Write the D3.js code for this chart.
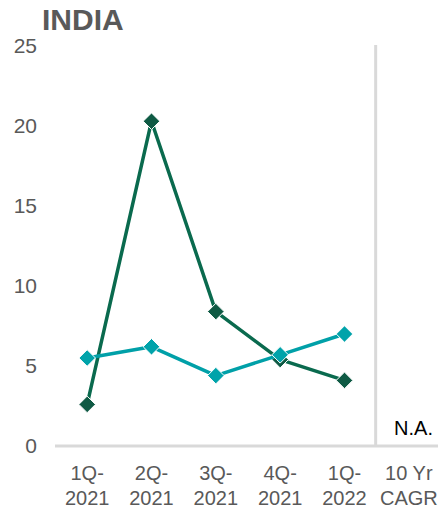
<!DOCTYPE html>
<html>
<head>
<meta charset="utf-8">
<script src="https://cdn.jsdelivr.net/npm/d3@7"></script>
<style>
  html, body { margin: 0; padding: 0; background: #fff; }
  svg { display: block; font-family: "Liberation Sans", Arial, sans-serif; }
</style>
</head>
<body>
<svg id="chart" width="438" height="512"></svg>
<script>
// Quarterly growth, India
const categories = ["1Q-2021", "2Q-2021", "3Q-2021", "4Q-2021", "1Q-2022", "10 Yr CAGR"];
const quarters = categories.slice(0, 5);
const seriesDark = [2.6, 20.3, 8.4, 5.4, 4.1];
const seriesTeal = [5.5, 6.2, 4.4, 5.7, 7.0];
const yTicks = [0, 5, 10, 15, 20, 25];
const cagrLabel = "N.A.";

const svg = d3.select("#chart");
const FONT = "Liberation Sans, Arial, sans-serif";

const x = d3.scaleBand().domain(categories).range([55, 441]).padding(0);
const y = d3.scaleLinear().domain([0, 25]).range([446, 46]);

// title
svg.append("text")
  .attr("x", 42).attr("y", 30)
  .style("font-size", "30px").style("font-weight", "bold")
  .style("font-family", FONT)
  .attr("fill", "#595959")
  .text("INDIA");

// y axis labels
const yAxis = d3.axisLeft(y).tickValues(yTicks).tickSize(0).tickPadding(0);
const yg = svg.append("g").attr("transform", "translate(37,0)").call(yAxis);
yg.attr("font-size", null).attr("font-family", null);
yg.select(".domain").remove();
yg.selectAll("text")
  .style("font-size", "21px").style("font-family", FONT)
  .attr("fill", "#595959");

// separator before CAGR column
const sepX = x("10 Yr CAGR") - 1;
svg.append("line")
  .attr("x1", sepX).attr("x2", sepX)
  .attr("y1", 45).attr("y2", 446)
  .attr("stroke", "#d9d9d9").attr("stroke-width", 3);

// x axis baseline
svg.append("line")
  .attr("x1", 55).attr("x2", 438)
  .attr("y1", y(0)).attr("y2", y(0))
  .attr("stroke", "#d9d9d9").attr("stroke-width", 3);

// x category labels, two lines
const xAxis = d3.axisBottom(x).tickSize(0).tickFormat("");
const xg = svg.append("g").attr("transform", `translate(0,${y(0)})`).call(xAxis);
xg.attr("font-size", null).attr("font-family", null);
xg.select(".domain").remove();
xg.selectAll(".tick").each(function(d) {
  const parts = d === "10 Yr CAGR" ? ["10 Yr", "CAGR"] : [d.split("-")[0] + "-", d.split("-")[1]];
  const t = d3.select(this).append("text")
    .attr("text-anchor", "middle")
    .style("font-size", "20px").style("font-family", FONT)
    .attr("fill", "#595959");
  t.append("tspan").attr("x", 0).attr("y", 34).text(parts[0]);
  t.append("tspan").attr("x", 0).attr("y", 59).text(parts[1]);
});

const cx = d => x(d) + x.bandwidth() / 2;

function drawSeries(values, lineColor, markerColor) {
  const data = quarters.map((q, i) => ({ q, v: values[i] }));
  svg.append("path")
    .datum(data)
    .attr("fill", "none")
    .attr("stroke", lineColor)
    .attr("stroke-width", 3.5)
    .attr("stroke-linejoin", "round")
    .attr("d", d3.line().x(d => cx(d.q)).y(d => y(d.v)));
  svg.append("g").selectAll("path")
    .data(data)
    .join("path")
    .attr("d", d3.symbol(d3.symbolDiamond2, 175))
    .attr("transform", d => `translate(${cx(d.q)},${y(d.v)})`)
    .attr("fill", markerColor)
    .attr("stroke", "#ffffff")
    .attr("stroke-width", 1);
}

drawSeries(seriesDark, "#0a6a4e", "#0f5a44");
drawSeries(seriesTeal, "#00a0a8", "#00a3aa");

// CAGR value label
svg.append("text")
  .attr("x", 433).attr("y", 435)
  .attr("text-anchor", "end")
  .style("font-size", "20px").style("font-family", FONT)
  .attr("fill", "#000")
  .text(cagrLabel);
</script>
</body>
</html>
